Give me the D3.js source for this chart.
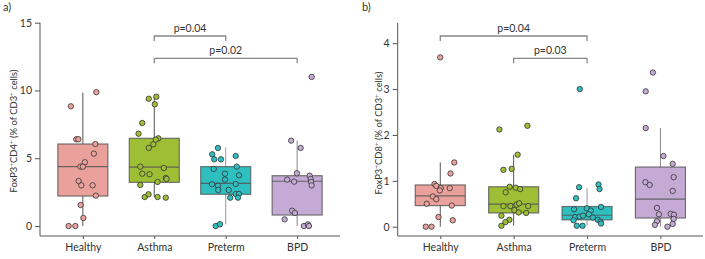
<!DOCTYPE html>
<html><head><meta charset="utf-8">
<script src="https://cdn.jsdelivr.net/npm/d3@7"></script>
<style>
body{margin:0;background:#fff;}
text{font-family:Lato,"Noto Sans",sans-serif;fill:#333;}
</style></head>
<body><svg id="c" width="705" height="259"></svg>
<script>
const categories = ["Healthy","Asthma","Preterm","BPD"];
const colors = ["#EBA19B","#9EBE36","#2EBFC1","#C4AAD4"];

// Panel a: FoxP3+CD4+
const cd4Healthy = [8.83,9.87,6.40,6.40,6.05,5.34,4.70,4.38,4.38,3.32,3.00,3.00,2.24,1.55,0.59,0,0];
const cd4HealthyJit = [-0.48,0.54,-0.26,-0.18,0.50,0.44,0.08,-0.10,0,-0.17,-0.06,0.39,0.52,-0.09,0.02,-0.57,-0.30];
const cd4Asthma = [9.39,9.54,8.98,7.60,6.81,6.47,6.37,6.03,5.76,4.38,4.28,3.86,3.82,3.54,3.47,3.25,3.03,2.14,2.34,2.14,2.09];
const cd4AsthmaJit = [-0.22,0.08,0.02,-0.48,-0.63,0.16,0.06,-0.04,-0.22,-0.56,0.38,-0.48,-0.19,0.46,0.49,0.13,-0.56,-0.38,-0.23,0.13,0.46];
const cd4Preterm = [5.76,5.29,5.17,4.92,4.92,4.21,4.38,3.86,3.74,3.42,3.08,2.97,2.66,3.10,2.66,2.36,2.36,2.09,2.09,0,0.13];
const cd4PretermJit = [-0.31,-0.54,0.40,-0.46,-0.19,-0.48,0.44,-0.03,0.53,-0.03,-0.55,-0.31,-0.30,0.40,0.12,0.40,0.53,0.18,0.49,-0.40,-0.23];
const cd4BPD = [11.0,6.3,5.76,3.89,3.42,3.27,3.71,3.47,3.25,3.0,1.13,0.96,0.49,0,0.12,0];
const cd4BPDJit = [0.58,-0.24,0.14,-0.01,-0.40,-0.12,0.50,0.54,0.56,0.58,-0.20,-0.09,-0.50,0.27,0.43,0.47];
// box stats: [whiskerLow, q1, median, q3, whiskerHigh]
const cd4Boxes = [[0,2.21,4.38,6.05,9.84],[2.14,3.22,4.35,6.47,9.56],[0.12,2.34,3.15,4.38,5.8],[0,0.81,3.3,3.71,6.3]];
const cd4Ticks = [0,5,10,15];
const cd4Pvals = [["Asthma","Preterm","p=0.04"],["Asthma","BPD","p=0.02"]];

// Panel b: FoxP3+CD8+
const cd8Healthy = [3.69,1.40,1.16,0.93,0.89,0.84,0.79,0.84,0.66,0.60,0.50,0.46,0.21,0.14,0,0];
const cd8HealthyJit = [0,0.56,0.41,-0.23,-0.16,0.02,-0.02,0.38,-0.30,-0.16,-0.54,0.46,-0.07,0.50,-0.58,-0.35];
const cd8Asthma = [2.12,2.20,1.57,1.24,1.26,0.87,0.85,0.82,0.75,0.45,0.45,0.48,0.51,0.45,0.36,0.31,0.30,0.24,0.15,0.10,0.02];
const cd8AsthmaJit = [-0.57,0.55,0.16,-0.41,-0.08,-0.16,0.08,0.26,-0.32,-0.41,-0.13,0.12,0.22,0.58,0.03,0.20,0.50,-0.49,-0.17,-0.33,-0.49];
const cd8Preterm = [3.0,0.86,0.92,0.82,0.62,0.43,0.38,0.40,0.35,0.21,0.22,0.24,0.27,0.14,0.20,0.15,0.11,0.07,0.02,0.02];
const cd8PretermJit = [-0.29,-0.32,0.46,0.50,-0.44,0.56,-0.52,-0.01,0.15,-0.48,-0.30,-0.16,0.07,-0.54,0.23,0.43,0.54,0.56,-0.41,-0.18];
const cd8BPD = [3.36,2.95,2.15,1.54,1.37,1.08,0.97,0.91,0.78,0.41,0.27,0.28,0.26,0.17,0.12,0.04,0.06,0];
const cd8BPDJit = [-0.30,-0.59,-0.59,0.12,0.49,0.53,-0.60,-0.43,0.49,-0.14,-0.06,0.41,0.54,0.53,-0.14,-0.22,0.49,0.28];
const cd8Boxes = [[0,0.46,0.67,0.91,1.40],[0.02,0.30,0.49,0.87,1.57],[0.02,0.15,0.25,0.44,0.84],[0,0.19,0.60,1.30,2.15]];
const cd8Ticks = [0,1,2,3,4];
const cd8Pvals = [["Healthy","Preterm","p=0.04"],["Asthma","Preterm","p=0.03"]];

const whiskerColors = ["#555","#555","#999","#888"];

const svg = d3.select("#c");

function panel(cfg){
  const g = svg.append("g");
  const x = d3.scalePoint().domain(categories).range([cfg.x0, cfg.x1]).padding(cfg.pad);
  const y = d3.scaleLinear().domain([0, cfg.ymax]).range([cfg.yb, cfg.yt]);
  const halfW = 25;

  // axes
  const ya = g.append("g").attr("transform",`translate(${cfg.x0},0)`)
    .call(d3.axisLeft(y).tickValues(cfg.ticks).tickSize(5).tickPadding(3).tickFormat(d3.format("d")));
  ya.select(".domain").remove();
  ya.selectAll("line").attr("stroke","#555");
  ya.selectAll("text").attr("font-size",10.5).attr("fill","#333").style("font-family","Lato");
  g.append("line").attr("x1",cfg.x0).attr("x2",cfg.x0).attr("y1",y(cfg.ymax)).attr("y2",cfg.xaxisY).attr("stroke","#555");
  const xa = g.append("g").attr("transform",`translate(0,${cfg.xaxisY})`)
    .call(d3.axisBottom(x).tickSize(3).tickPadding(5));
  xa.select(".domain").remove();
  xa.selectAll("line").attr("stroke","#555");
  xa.selectAll("text").attr("font-size",10.5).attr("fill","#333").style("font-family","Lato");
  g.append("line").attr("x1",cfg.x0).attr("x2",cfg.x1).attr("y1",cfg.xaxisY).attr("y2",cfg.xaxisY).attr("stroke","#555");

  // boxes
  categories.forEach((c,i)=>{
    const b = cfg.boxes[i], cx = x(c);
    g.append("line").attr("x1",cx).attr("x2",cx).attr("y1",y(b[0])).attr("y2",y(b[4]))
      .attr("stroke", whiskerColors[i]).attr("stroke-width",1);
    g.append("rect").attr("x",cx-halfW).attr("width",halfW*2)
      .attr("y",y(b[3])).attr("height",y(b[1])-y(b[3]))
      .attr("fill",colors[i]).attr("stroke","#555").attr("stroke-opacity",0.8).attr("stroke-width",1.2);
    g.append("line").attr("x1",cx-halfW).attr("x2",cx+halfW).attr("y1",y(b[2])).attr("y2",y(b[2]))
      .attr("stroke","#555").attr("stroke-opacity",0.85).attr("stroke-width",1.2);
  });
  // points
  categories.forEach((c,i)=>{
    const vals = cfg.values[i], jit = cfg.jitter[i], cx = x(c);
    g.selectAll(null).data(vals).enter().append("circle")
      .attr("cx",(d,k)=>cx + jit[k]*halfW).attr("cy",d=>y(d)).attr("r",2.7)
      .attr("fill",colors[i]).attr("stroke","#333").attr("stroke-width",0.8);
  });
  // brackets
  cfg.pvals.forEach((p,k)=>{
    const xa1 = x(p[0]), xb = x(p[1]), yy = cfg.bracketY[k];
    g.append("path").attr("d",`M${xa1},${yy+5}V${yy}H${xb}V${yy+5}`)
      .attr("fill","none").attr("stroke","#888").attr("stroke-width",1.3);
    g.append("text").attr("x",(xa1+xb)/2).attr("y",yy-4).attr("text-anchor","middle")
      .attr("font-size",10.5).text(p[2]);
  });
  // y label
  const t = g.append("text").attr("transform",`translate(${cfg.labelX},${cfg.labelY}) rotate(-90)`)
    .attr("text-anchor","middle").attr("font-size",9.4);
  let shift = 0;
  cfg.label.forEach(part=>{
    if(part.sup){
      t.append("tspan").attr("dy",-3.4 - shift).attr("font-size",6.5).text(part.t);
      shift = -3.4;
    } else {
      t.append("tspan").attr("dy", -shift).text(part.t);
      shift = 0;
    }
  });
  g.append("text").attr("x",cfg.tagX).attr("y",11).attr("font-size",11).text(cfg.tag);
}

panel({x0:40,x1:340,pad:0.6,yb:226,yt:22.7,ymax:15,xaxisY:236,ticks:cd4Ticks,
  boxes:cd4Boxes,values:[cd4Healthy,cd4Asthma,cd4Preterm,cd4BPD],
  jitter:[cd4HealthyJit,cd4AsthmaJit,cd4PretermJit,cd4BPDJit],
  pvals:cd4Pvals,bracketY:[36,58.3],labelX:17,labelY:131,tagX:3,tag:"a)",
  label:[{t:"FoxP3"},{t:"+",sup:1},{t:"CD4"},{t:"+",sup:1},{t:" (% of CD3"},{t:"+",sup:1},{t:" cells)"}]});
panel({x0:397.7,x1:703,pad:0.58,yb:226.7,yt:23,ymax:4.44,xaxisY:236,ticks:cd8Ticks,
  boxes:cd8Boxes,values:[cd8Healthy,cd8Asthma,cd8Preterm,cd8BPD],
  jitter:[cd8HealthyJit,cd8AsthmaJit,cd8PretermJit,cd8BPDJit],
  pvals:cd8Pvals,bracketY:[36,58.3],labelX:382,labelY:133,tagX:362,tag:"b)",
  label:[{t:"FoxP3"},{t:"+",sup:1},{t:"CD8"},{t:"+",sup:1},{t:" (% of CD3"},{t:"+",sup:1},{t:" cells)"}]});
</script></body></html>
